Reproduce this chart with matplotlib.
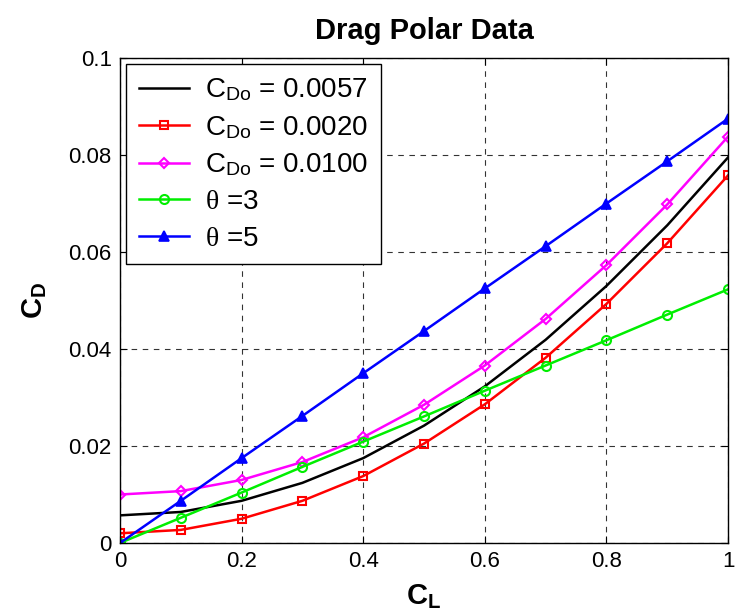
import matplotlib
matplotlib.use('Agg')
import matplotlib.pyplot as plt

plt.rcParams.update({
    'font.family': 'Liberation Sans',
    'mathtext.fontset': 'custom',
    'mathtext.rm': 'Liberation Sans',
    'mathtext.it': 'Liberation Serif',
    'mathtext.bf': 'Liberation Sans:bold',
    'axes.linewidth': 1.0,
})

CL = [0.0, 0.1, 0.2, 0.3, 0.4, 0.5, 0.6, 0.7, 0.8, 0.9, 1.0]
CD_0057 = [0.0057, 0.0064, 0.0087, 0.0124, 0.0175, 0.0242, 0.0323, 0.0419, 0.0530, 0.0655, 0.0795]
CD_0020 = [0.0020, 0.0027, 0.0050, 0.0087, 0.0138, 0.0205, 0.0286, 0.0382, 0.0493, 0.0618, 0.0758]
CD_0100 = [0.0100, 0.0107, 0.0130, 0.0167, 0.0218, 0.0285, 0.0366, 0.0462, 0.0573, 0.0698, 0.0838]
THETA_3 = [0.0, 0.0052, 0.0104, 0.0157, 0.0209, 0.0261, 0.0314, 0.0366, 0.0418, 0.0471, 0.0523]
THETA_5 = [0.0, 0.0087, 0.0175, 0.0262, 0.0350, 0.0437, 0.0525, 0.0612, 0.0700, 0.0787, 0.0875]

XTICKS = [0, 0.2, 0.4, 0.6, 0.8, 1]
XTICKLABELS = ['0', '0.2', '0.4', '0.6', '0.8', '1']
YTICKS = [0, 0.02, 0.04, 0.06, 0.08, 0.1]
YTICKLABELS = ['0', '0.02', '0.04', '0.06', '0.08', '0.1']

fig = plt.figure(figsize=(7.48, 6.16), dpi=100)
ax = fig.add_axes([0.1604, 0.1185, 0.8129, 0.7873])

lw = 1.8
ax.plot(CL, CD_0057, color='black', lw=lw, label=r'C$_{\rm Do}$ = 0.0057')
ax.plot(CL, CD_0020, color='red', lw=lw, marker='s', ms=6, mfc='none', mew=1.5,
        label=r'C$_{\rm Do}$ = 0.0020')
ax.plot(CL, CD_0100, color='magenta', lw=lw, marker='D', ms=5.5, mfc='none', mew=1.5,
        label=r'C$_{\rm Do}$ = 0.0100')
ax.plot(CL, THETA_3, color='#00ee00', lw=lw, marker='o', ms=6.5, mfc='none', mew=1.5,
        label=r'$\theta$ =3')
ax.plot(CL, THETA_5, color='blue', lw=lw, marker='^', ms=7, mfc='blue', mew=1.2,
        label=r'$\theta$ =5')

ax.set_xlim(0, 1)
ax.set_ylim(0, 0.1)
ax.set_xticks(XTICKS)
ax.set_xticklabels(XTICKLABELS)
ax.set_yticks(YTICKS)
ax.set_yticklabels(YTICKLABELS)
ax.tick_params(direction='in', top=True, right=True, labelsize=16, length=5, pad=6)
ax.grid(True, color='black', linestyle=(0, (5, 5)), linewidth=0.8, alpha=0.8)

ax.set_title('Drag Polar Data', fontsize=21, fontweight='bold', pad=14)
ax.set_xlabel(r'$\mathbf{C_L}$', fontsize=21, labelpad=7)
ax.set_ylabel(r'$\mathbf{C_D}$', fontsize=21, labelpad=14)

leg = ax.legend(loc='upper left', fontsize=20, frameon=True, fancybox=False,
                edgecolor='black', framealpha=1, handlelength=1.8,
                handletextpad=0.6, labelspacing=0.38, borderaxespad=0.22,
                borderpad=0.45)
leg.get_frame().set_linewidth(1.0)

fig.savefig('out.png', dpi=100)
